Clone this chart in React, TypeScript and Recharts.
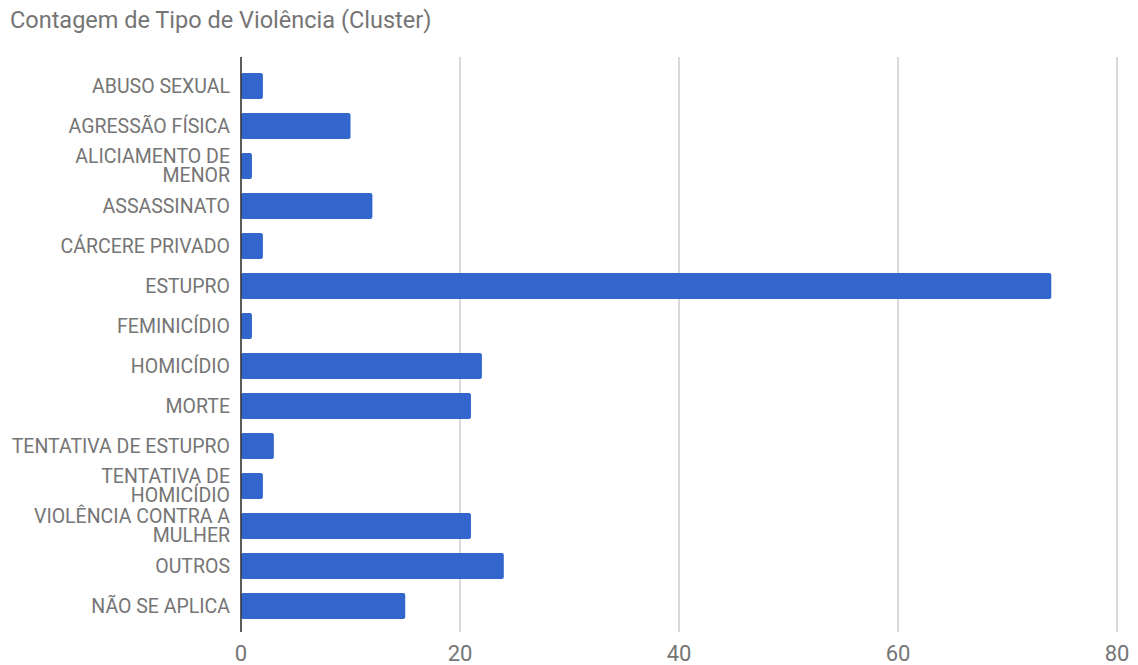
import React from 'react';
import { BarChart, Bar, XAxis, YAxis, CartesianGrid } from 'recharts';

const categories = [
  'ABUSO SEXUAL',
  'AGRESSÃO FÍSICA',
  'ALICIAMENTO DE MENOR',
  'ASSASSINATO',
  'CÁRCERE PRIVADO',
  'ESTUPRO',
  'FEMINICÍDIO',
  'HOMICÍDIO',
  'MORTE',
  'TENTATIVA DE ESTUPRO',
  'TENTATIVA DE HOMICÍDIO',
  'VIOLÊNCIA CONTRA A MULHER',
  'OUTROS',
  'NÃO SE APLICA',
];

const counts = [2, 10, 1, 12, 2, 74, 1, 22, 21, 3, 2, 21, 24, 15];

const xTicks = [0, 20, 40, 60, 80];

// labels that Google wraps onto two lines (break before last word)
const wrapped = new Set(['ALICIAMENTO DE MENOR', 'TENTATIVA DE HOMICÍDIO', 'VIOLÊNCIA CONTRA A MULHER']);

const data = categories.map((name, i) => ({ name, value: counts[i] }));

const TEXT = '#757575';
const FONT = 'Roboto, sans-serif';

const CategoryTick = ({ x, y, payload }: any) => {
  const label: string = payload.value;
  let lines = [label];
  if (wrapped.has(label)) {
    const cut = label.lastIndexOf(' ');
    lines = [label.slice(0, cut), label.slice(cut + 1)];
  }
  const lh = 19;
  const start = -((lines.length - 1) * lh) / 2;
  return (
    <text x={x - 3} y={y} textAnchor="end" fill={TEXT} fontSize={19.5} fontFamily={FONT}>
      {lines.map((l, i) => (
        <tspan key={i} x={x - 3} dy={i === 0 ? start + 6.5 : lh}>{l}</tspan>
      ))}
    </text>
  );
};

const ValueTick = ({ x, y, payload }: any) => (
  <text x={x} y={y + 21} textAnchor="middle" fill={TEXT} fontSize={22} fontFamily={FONT}>
    {payload.value}
  </text>
);

export default function App() {
  return (
    <div style={{ position: 'absolute', left: 0, top: 0, width: 1138, height: 665, background: '#fff' }}>
      <div style={{ position: 'absolute', left: 10, top: 6, fontFamily: FONT, fontSize: 23.5, color: TEXT }}>
        Contagem de Tipo de Violência (Cluster)
      </div>
      <BarChart
        width={1138}
        height={665}
        data={data}
        layout="vertical"
        margin={{ top: 57, right: 21, bottom: 0, left: 0 }}
        barCategoryGap={14}
      >
        <CartesianGrid horizontal={false} stroke="#cccccc" strokeWidth={1.5} />
        <XAxis
          type="number"
          domain={[0, 80]}
          ticks={xTicks}
          axisLine={false}
          tickLine={false}
          height={33}
          tick={<ValueTick />}
          interval={0}
        />
        <YAxis
          type="category"
          dataKey="name"
          width={241}
          axisLine={{ stroke: '#333333', strokeWidth: 1.5 }}
          tickLine={false}
          tick={<CategoryTick />}
          interval={0}
          padding={{ top: 9, bottom: 6 }}
        />
        <Bar dataKey="value" fill="#3366cc" barSize={26} radius={2} isAnimationActive={false} />
      </BarChart>
    </div>
  );
}
